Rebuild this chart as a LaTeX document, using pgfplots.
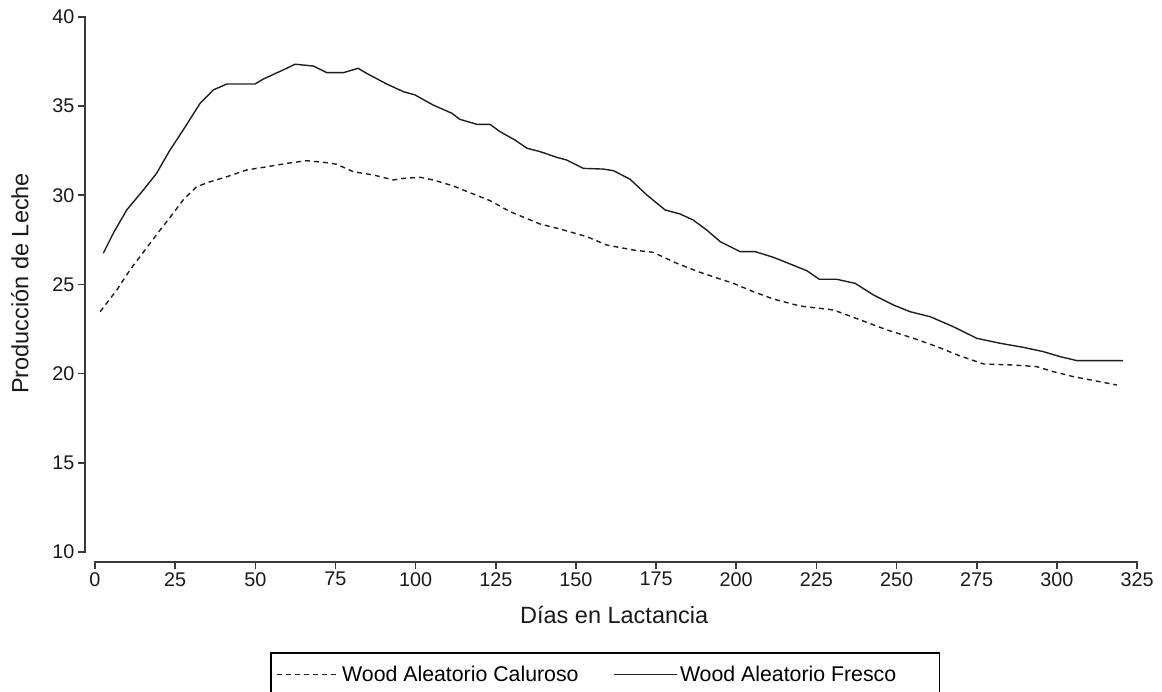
\documentclass[border=0pt]{standalone}
\usepackage{fontspec}
\setmainfont{Liberation Sans}
\usepackage{pgfplots}
\pgfplotsset{compat=1.18}
\definecolor{axcol}{HTML}{3A3A3A}
\definecolor{lncol}{HTML}{1E1E1E}
\begin{document}
\begin{tikzpicture}
\begin{axis}[
  scale only axis,
  width=1052pt, height=544.7pt,
  xmin=-3.12, xmax=325, ymin=9.45, ymax=40,
  axis lines*=left,
  axis line style={draw=none},
  xtick={0,25,...,325}, ytick={10,15,...,40},
  minor tick num=0,
  tick align=outside,
  major tick length=7pt,
  tick style={line width=1.6pt, color=axcol},
  /pgf/number format/assume math mode=true,
  /pgf/number format/1000 sep={},
  ticklabel style={font=\fontsize{19.8}{20}\selectfont, color=black!90},
  xlabel={Días en Lactancia},
  ylabel={Producción de Leche},
  label style={font=\fontsize{23.5}{24}\selectfont, color=black!90},
  xlabel style={at={(axis description cs:0.503,-0.097)}, anchor=center},
  ylabel style={at={(axis description cs:-0.062,0.511)}, anchor=center},
  clip=false,
  legend columns=2,
  legend image code/.code={\draw[#1] (0pt,0pt) -- (63pt,0pt);},
  legend style={at={(axis description cs:0.1759,-0.1658)}, anchor=north west,
    draw=black, line width=1.5pt, inner xsep=5pt, inner ysep=11pt,
    font=\fontsize{21.3}{22}\selectfont,
    nodes={inner sep=2pt},
    /tikz/every even column/.append style={column sep=33pt}},
]
\addplot[lncol, line width=1.4pt, dash pattern=on 5pt off 4pt] coordinates {
(1.6,23.47) (6.8,24.69) (10.9,25.81) (15.6,26.93) (20.3,28.05) (24.4,28.99)
(27.5,29.74) (31.7,30.48) (35.9,30.76) (41.1,31.04) (47.3,31.42) (53.6,31.60)
(59.8,31.79) (66.0,31.94) (72.3,31.83) (75.4,31.74) (80.6,31.32) (86.8,31.14)
(93.1,30.86) (96.2,30.95) (101.4,31.01) (105.5,30.86) (111.8,30.52) (120.1,29.92)
(123.2,29.70) (129.5,29.08) (138.8,28.39) (145.0,28.11) (153.4,27.68) (159.6,27.21)
(167.9,26.93) (174.1,26.80) (181.4,26.19) (188.7,25.68) (199.1,25.06) (205.4,24.59)
(211.6,24.18) (219.9,23.79) (230.3,23.57) (238.7,23.01) (247.0,22.45) (255.3,21.98)
(262.6,21.51) (269.8,20.99) (277.1,20.54) (286.5,20.48) (293.7,20.39) (298.9,20.11)
(305.1,19.83) (318.7,19.36)
};
\addlegendentry{Wood Aleatorio Caluroso}
\addplot[lncol, line width=1.4pt] coordinates {
(2.6,26.75) (5.7,27.87) (9.9,29.18) (15.1,30.30) (19.2,31.23) (23.4,32.54)
(27.5,33.66) (32.8,35.16) (36.9,35.91) (41.1,36.24) (49.9,36.24) (52.5,36.52)
(58.7,37.03) (62.4,37.35) (68.1,37.25) (72.3,36.88) (77.5,36.88) (82.1,37.12)
(84.7,36.84) (91.0,36.24) (96.2,35.81) (99.8,35.63) (105.5,35.06) (111.3,34.60)
(113.8,34.26) (119.1,33.98) (123.2,33.98) (126.3,33.57) (131.0,33.10) (134.7,32.64)
(138.8,32.45) (144.0,32.13) (147.1,31.98) (152.3,31.51) (158.5,31.47) (161.7,31.38)
(166.9,30.90) (172.1,30.02) (177.8,29.18) (182.5,28.95) (186.6,28.61) (190.8,28.05)
(195.0,27.40) (201.2,26.84) (205.9,26.84) (211.6,26.52) (215.8,26.22) (222.0,25.77)
(225.9,25.29) (231.3,25.29) (237.1,25.06) (242.8,24.41) (249.0,23.85) (254.2,23.47)
(260.5,23.19) (267.7,22.63) (275.0,21.98) (282.3,21.70) (289.6,21.47) (295.8,21.23)
(301.0,20.95) (306.2,20.73) (320.7,20.73)
};
\addlegendentry{Wood Aleatorio Fresco\hspace*{36pt}}
\draw[axcol, line width=2pt] (axis cs:-0.25,9.45) -- (axis cs:325.25,9.45);
\draw[axcol, line width=2pt] (axis cs:-3.12,9.95) -- (axis cs:-3.12,40.05);
\end{axis}
\pgfresetboundingbox
\path (current axis.south west) ++(-85pt,-130.3pt) rectangle ++(1162pt,692pt);
\end{tikzpicture}
\end{document}
